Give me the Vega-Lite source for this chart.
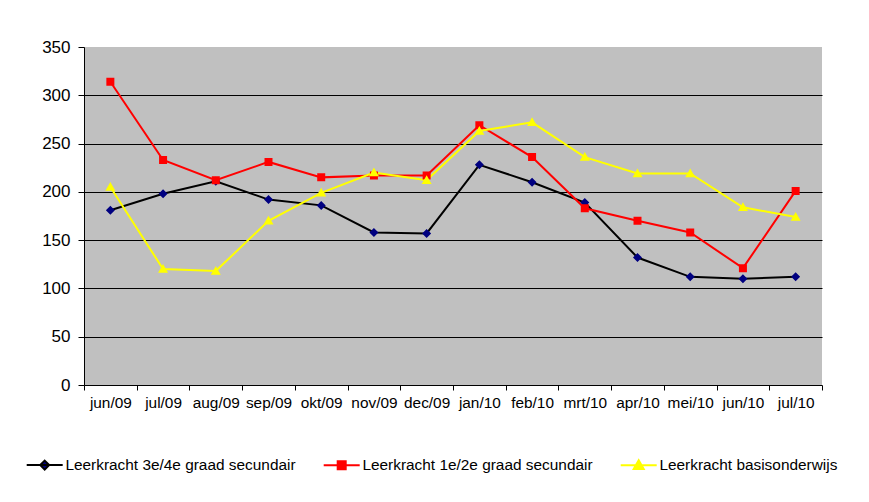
{
  "$schema": "https://vega.github.io/schema/vega-lite/v6.json",
  "width": 738,
  "height": 338,
  "autosize": {"type": "none"},
  "padding": {"left": 84, "top": 47, "right": 47, "bottom": 117},
  "background": "white",
  "config": {
    "font": "Liberation Sans",
    "view": {"fill": "#C0C0C0", "stroke": null},
    "legend": {
      "title": null,
      "orient": "none",
      "legendX": -47,
      "legendY": 410,
      "direction": "horizontal",
      "padding": 0,
      "labelFontSize": 15.4,
      "labelColor": "black",
      "labelOffset": 13,
      "labelLimit": 0,
      "columnPadding": 23,
      "symbolSize": 100,
      "symbolStrokeWidth": 2
    }
  },
  "data": {
    "values": [
      {"month": "jun/09", "series": "Leerkracht 3e/4e graad secundair", "value": 181},
      {"month": "jul/09", "series": "Leerkracht 3e/4e graad secundair", "value": 198},
      {"month": "aug/09", "series": "Leerkracht 3e/4e graad secundair", "value": 211},
      {"month": "sep/09", "series": "Leerkracht 3e/4e graad secundair", "value": 192},
      {"month": "okt/09", "series": "Leerkracht 3e/4e graad secundair", "value": 186},
      {"month": "nov/09", "series": "Leerkracht 3e/4e graad secundair", "value": 158},
      {"month": "dec/09", "series": "Leerkracht 3e/4e graad secundair", "value": 157},
      {"month": "jan/10", "series": "Leerkracht 3e/4e graad secundair", "value": 228},
      {"month": "feb/10", "series": "Leerkracht 3e/4e graad secundair", "value": 210},
      {"month": "mrt/10", "series": "Leerkracht 3e/4e graad secundair", "value": 189},
      {"month": "apr/10", "series": "Leerkracht 3e/4e graad secundair", "value": 132},
      {"month": "mei/10", "series": "Leerkracht 3e/4e graad secundair", "value": 112},
      {"month": "jun/10", "series": "Leerkracht 3e/4e graad secundair", "value": 110},
      {"month": "jul/10", "series": "Leerkracht 3e/4e graad secundair", "value": 112},
      {"month": "jun/09", "series": "Leerkracht 1e/2e graad secundair", "value": 314},
      {"month": "jul/09", "series": "Leerkracht 1e/2e graad secundair", "value": 233},
      {"month": "aug/09", "series": "Leerkracht 1e/2e graad secundair", "value": 212},
      {"month": "sep/09", "series": "Leerkracht 1e/2e graad secundair", "value": 231},
      {"month": "okt/09", "series": "Leerkracht 1e/2e graad secundair", "value": 215},
      {"month": "nov/09", "series": "Leerkracht 1e/2e graad secundair", "value": 217},
      {"month": "dec/09", "series": "Leerkracht 1e/2e graad secundair", "value": 217},
      {"month": "jan/10", "series": "Leerkracht 1e/2e graad secundair", "value": 269},
      {"month": "feb/10", "series": "Leerkracht 1e/2e graad secundair", "value": 236},
      {"month": "mrt/10", "series": "Leerkracht 1e/2e graad secundair", "value": 183},
      {"month": "apr/10", "series": "Leerkracht 1e/2e graad secundair", "value": 170},
      {"month": "mei/10", "series": "Leerkracht 1e/2e graad secundair", "value": 158},
      {"month": "jun/10", "series": "Leerkracht 1e/2e graad secundair", "value": 121},
      {"month": "jul/10", "series": "Leerkracht 1e/2e graad secundair", "value": 201},
      {"month": "jun/09", "series": "Leerkracht basisonderwijs", "value": 205},
      {"month": "jul/09", "series": "Leerkracht basisonderwijs", "value": 120},
      {"month": "aug/09", "series": "Leerkracht basisonderwijs", "value": 118},
      {"month": "sep/09", "series": "Leerkracht basisonderwijs", "value": 170},
      {"month": "okt/09", "series": "Leerkracht basisonderwijs", "value": 199},
      {"month": "nov/09", "series": "Leerkracht basisonderwijs", "value": 220},
      {"month": "dec/09", "series": "Leerkracht basisonderwijs", "value": 212},
      {"month": "jan/10", "series": "Leerkracht basisonderwijs", "value": 263},
      {"month": "feb/10", "series": "Leerkracht basisonderwijs", "value": 272},
      {"month": "mrt/10", "series": "Leerkracht basisonderwijs", "value": 236},
      {"month": "apr/10", "series": "Leerkracht basisonderwijs", "value": 219},
      {"month": "mei/10", "series": "Leerkracht basisonderwijs", "value": 219},
      {"month": "jun/10", "series": "Leerkracht basisonderwijs", "value": 184},
      {"month": "jul/10", "series": "Leerkracht basisonderwijs", "value": 174}
    ]
  },
  "encoding": {
    "x": {
      "field": "month",
      "type": "nominal",
      "sort": ["jun/09", "jul/09", "aug/09", "sep/09", "okt/09", "nov/09", "dec/09", "jan/10", "feb/10", "mrt/10", "apr/10", "mei/10", "jun/10", "jul/10"],
      "scale": {"paddingInner": 0, "paddingOuter": 0},
      "axis": {
        "title": null,
        "labelAngle": 0,
        "labelFontSize": 15.4,
        "labelColor": "black",
        "labelPadding": 5,
        "tickBand": "extent",
        "tickSize": 5,
        "tickColor": "black",
        "domainColor": "black",
        "grid": false
      }
    },
    "y": {
      "field": "value",
      "type": "quantitative",
      "scale": {"domain": [0, 350], "nice": false},
      "axis": {
        "title": null,
        "values": [0, 50, 100, 150, 200, 250, 300, 350],
        "labelFontSize": 17,
        "labelColor": "black",
        "labelPadding": 8,
        "tickSize": 6,
        "tickColor": "black",
        "domainColor": "black",
        "grid": true,
        "gridColor": {"condition": {"test": "datum.value == 350 || datum.value == 0", "value": "transparent"}, "value": "black"},
        "gridOpacity": 1
      }
    }
  },
  "layer": [
    {
      "mark": {"type": "line", "strokeWidth": 2},
      "encoding": {
        "stroke": {
          "field": "series",
          "type": "nominal",
          "scale": {
            "domain": ["Leerkracht 3e/4e graad secundair", "Leerkracht 1e/2e graad secundair", "Leerkracht basisonderwijs"],
            "range": ["black", "#FF0000", "#FFFF00"]
          }
        }
      }
    },
    {
      "mark": {"type": "point", "filled": true, "opacity": 1, "size": 100, "strokeWidth": 0},
      "encoding": {
        "fill": {
          "field": "series",
          "type": "nominal",
          "scale": {
            "domain": ["Leerkracht 3e/4e graad secundair", "Leerkracht 1e/2e graad secundair", "Leerkracht basisonderwijs"],
            "range": ["#000080", "#FF0000", "#FFFF00"]
          }
        },
        "shape": {
          "field": "series",
          "type": "nominal",
          "scale": {
            "domain": ["Leerkracht 3e/4e graad secundair", "Leerkracht 1e/2e graad secundair", "Leerkracht basisonderwijs"],
            "range": [
              "M-3.6,0H3.6M0,-0.9L0.9,0L0,0.9L-0.9,0Z",
              "M-3.6,0H3.6M-0.8,-0.8H0.8V0.8H-0.8Z",
              "M-3.6,0H3.6M0,-1L1,0.75H-1Z"
            ]
          }
        }
      }
    }
  ]
}
